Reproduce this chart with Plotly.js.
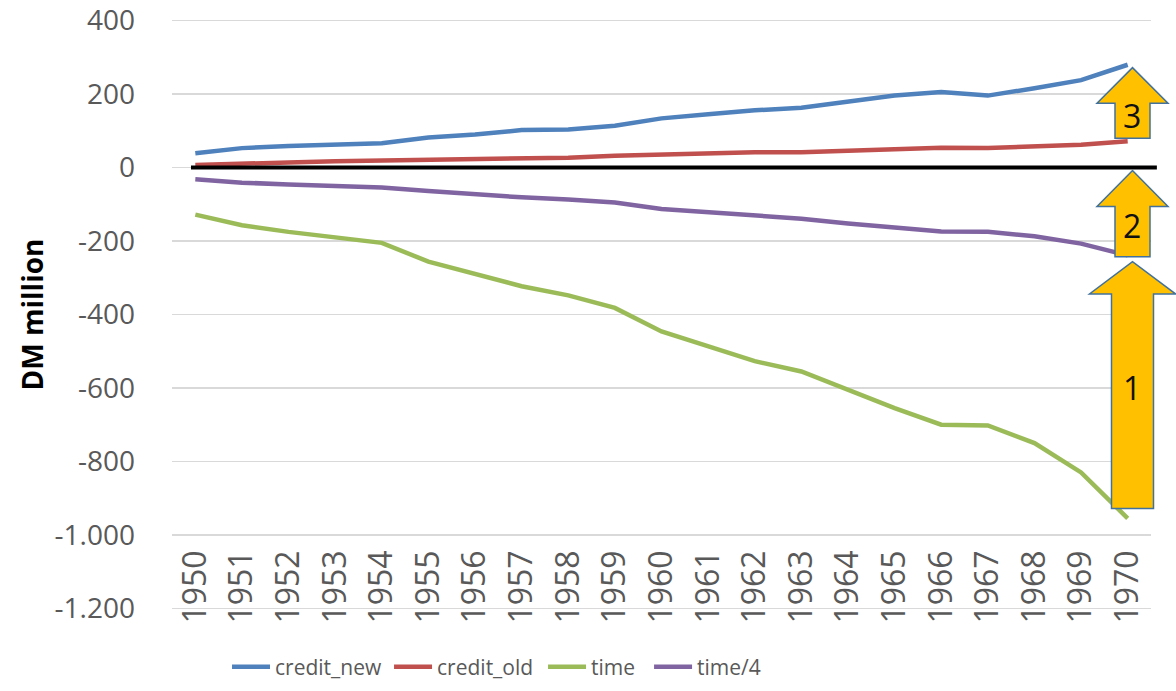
<!DOCTYPE html>
<html>
<head>
<meta charset="utf-8">
<script src="https://cdn.plot.ly/plotly-3.0.1.min.js"></script>
<style>html,body{margin:0;padding:0;background:#fff;}#chart{width:1176px;height:691px;}</style>
</head>
<body>
<div id="chart"></div>
<script>
// ---- data ----
var years = [1950,1951,1952,1953,1954,1955,1956,1957,1958,1959,1960,1961,1962,1963,1964,1965,1966,1967,1968,1969,1970];
var yearLabels = years.map(String);
var creditNew = [39, 53, 59, 64, 66, 82, 90, 102, 104, 114, 134, 145, 156, 163, 179, 196, 206, 196, 216, 238, 280];
var creditOld = [7, 12, 14, 17, 19, 23, 24, 27, 27, 32, 36, 39, 42, 42, 45, 49, 54, 53, 57, 62, 72];
var timeSeries = [-128, -157, -175, -189, -205, -256, -291, -323, -348, -382, -446, -485, -527, -555, -605, -655, -700, -702, -750, -830, -955];
var timeQuarter = [-32, -41, -46, -50, -54, -64, -74, -81, -87, -95, -113, -121, -132, -139, -152, -163, -174, -175, -187, -207, -239];
var seriesNames = ['credit_new', 'credit_old', 'time', 'time/4'];
var yTickVals = [400, 200, 0, -200, -400, -600, -800, -1000, -1200];
var yTickText = ['400', '200', '0', '-200', '-400', '-600', '-800', '-1.000', '-1.200'];
// arrow annotations (y in data units): bottom, head base, tip, label position
var arrowSpecs = [
  {label: '1', bottom: -928, headBase: -344, tip: -256, labelY: -600, wide: true},
  {label: '2', bottom: -243, headBase: -106, tip: -8, labelY: -158, wide: false},
  {label: '3', bottom: 80, headBase: 175, tip: 272, labelY: 142, wide: false}
];

var colors = ['#4F81BD', '#C0504D', '#9BBB59', '#8064A2'];
var seriesData = [creditNew, creditOld, timeSeries, timeQuarter];
var legendIds = ['legend', 'legend2', 'legend3', 'legend4'];
var legendX = [0.0562, 0.2217, 0.3790, 0.4873];
var FONT = '"Open Sans", "DejaVu Sans", sans-serif';

var traces = seriesData.map(function (vals, i) {
  return {
    type: 'scatter', mode: 'lines', x: years, y: vals, name: seriesNames[i],
    line: {color: colors[i], width: 4.5}, hoverinfo: 'skip', legend: legendIds[i]
  };
});

var yMin = -1210, yMax = 410;
function py(v) { return (v - yMin) / (yMax - yMin); }
var cx = 0.9811;
var shapes = [
  {type: 'line', xref: 'paper', yref: 'paper', x0: 0.0194, x1: 1.006, y0: py(0), y1: py(0),
   line: {color: '#000000', width: 4}, layer: 'above'}
];
var annotations = [];
arrowSpecs.forEach(function (a) {
  var bw = a.wide ? 0.02145 : 0.01788;
  var hw = a.wide ? 0.04392 : 0.03626;
  var p = 'M ' + (cx - bw) + ',' + py(a.bottom) +
          ' L ' + (cx - bw) + ',' + py(a.headBase) +
          ' L ' + (cx - hw) + ',' + py(a.headBase) +
          ' L ' + cx + ',' + py(a.tip) +
          ' L ' + (cx + hw) + ',' + py(a.headBase) +
          ' L ' + (cx + bw) + ',' + py(a.headBase) +
          ' L ' + (cx + bw) + ',' + py(a.bottom) + ' Z';
  shapes.push({type: 'path', xref: 'paper', yref: 'paper', path: p,
    fillcolor: '#FFC000', line: {color: '#41719C', width: 1.5}, layer: 'above'});
  annotations.push({xref: 'paper', yref: 'paper', x: cx, y: py(a.labelY), text: a.label,
    showarrow: false, font: {family: FONT, size: 32, color: '#111111'}, xanchor: 'center', yanchor: 'middle'});
});

var layout = {
  width: 1176, height: 691,
  margin: {l: 172, r: 25, t: 17, b: 79, autoexpand: false},
  paper_bgcolor: '#ffffff', plot_bgcolor: '#ffffff',
  font: {family: FONT, color: '#595959'},
  showlegend: true,
  xaxis: {
    type: 'linear', range: [1949.5, 1970.5], tickmode: 'array', tickvals: years, ticktext: yearLabels,
    tickangle: -90, showgrid: false, zeroline: false, showline: false, ticks: '', automargin: false,
    anchor: 'free', position: 0.116, ticklabeloverflow: 'allow',
    tickfont: {family: FONT, size: 32, color: '#595959'}
  },
  yaxis: {
    range: [yMin, yMax], tickmode: 'array', tickvals: yTickVals, ticktext: yTickText,
    showgrid: true, gridcolor: '#D9D9D9', gridwidth: 1.3, zeroline: false, showline: false,
    ticks: '', ticklabelstandoff: 36, automargin: false, ticklabeloverflow: 'allow',
    tickfont: {family: FONT, size: 28, color: '#595959'},
    title: {text: 'DM million', standoff: 2, font: {family: FONT, size: 28, color: '#000000', weight: 'bold'}}
  },
  shapes: shapes,
  annotations: annotations
};
legendIds.forEach(function (id, i) {
  layout[id] = {orientation: 'h', x: legendX[i], xanchor: 'left', y: -0.0924, yanchor: 'middle',
    font: {family: FONT, size: 21, color: '#595959'}, itemwidth: 38, bgcolor: 'rgba(0,0,0,0)'};
});

Plotly.newPlot('chart', traces, layout, {displayModeBar: false, staticPlot: true});
</script>
</body>
</html>
